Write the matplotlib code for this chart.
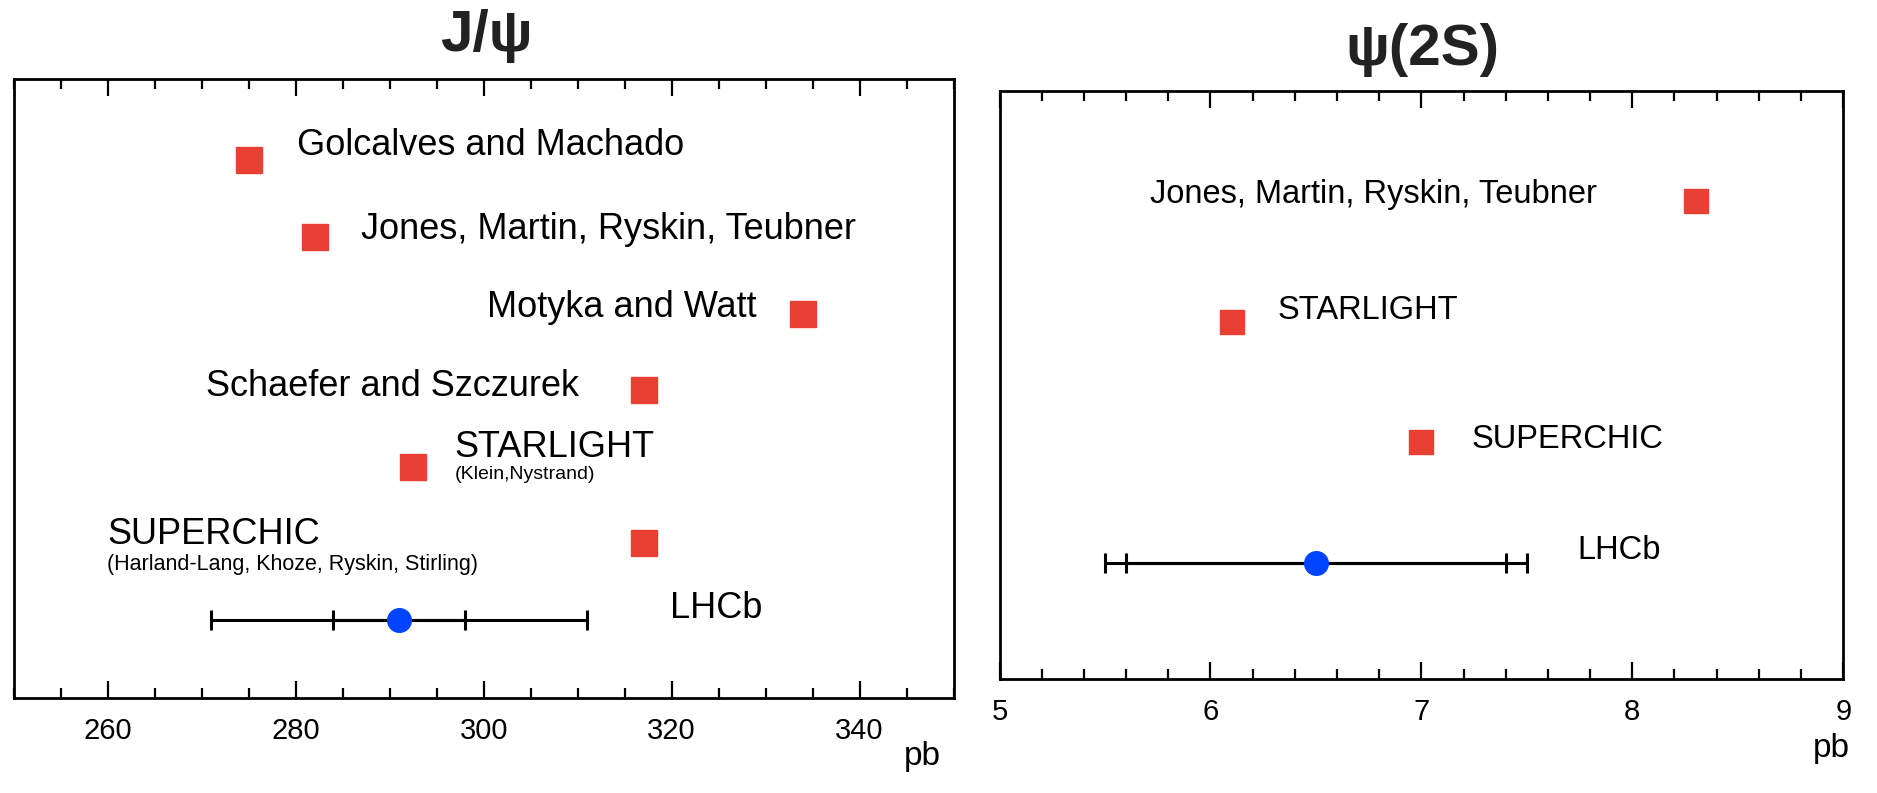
import numpy as np
import matplotlib
matplotlib.use("Agg")
import matplotlib.pyplot as plt
from matplotlib.ticker import MultipleLocator

plt.rcParams['font.family'] = ['Liberation Sans', 'DejaVu Sans']

RED = '#e84032'
BLUE = '#0044ff'

# J/psi predictions (pb), top to bottom
jpsi_models = ['Golcalves and Machado', 'Jones, Martin, Ryskin, Teubner', 'Motyka and Watt',
               'Schaefer and Szczurek', 'STARLIGHT', 'SUPERCHIC']
jpsi_notes = ['', '', '', '', '(Klein,Nystrand)', '(Harland-Lang, Khoze, Ryskin, Stirling)']
jpsi_pred = [275, 282, 334, 317, 292.5, 317]
# LHCb measurement: value, inner (stat) and total error
jpsi_lhcb = 291
jpsi_err_stat = 7
jpsi_err_tot = 20

# psi(2S) predictions (pb)
psi2s_models = ['Jones, Martin, Ryskin, Teubner', 'STARLIGHT', 'SUPERCHIC']
psi2s_pred = [8.3, 6.1, 7.0]
psi2s_lhcb = 6.5
psi2s_err_stat = 0.9
psi2s_err_tot = 1.0

# label placement: x (data units), vertical shift (rows), alignment
jpsi_lab = [(280.1, -0.2, 'left'), (286.9, -0.1, 'left'), (329.0, -0.08, 'right'),
            (310.1, -0.05, 'right'), (296.9, -0.25, 'left'), (259.9, -0.12, 'left')]
jpsi_note_lab = [None, None, None, None, (296.9, 0.1, 14), (259.9, 0.28, 15.5)]
psi2s_lab = [(5.715, -0.05, 'left'), (6.32, -0.09, 'left'), (7.24, -0.02, 'left')]


def style_axis(ax, major, minor, fs):
    for s in ax.spines.values():
        s.set_linewidth(2.0)
    ax.xaxis.set_major_locator(MultipleLocator(major))
    ax.xaxis.set_minor_locator(MultipleLocator(minor))
    ax.tick_params(axis='x', which='both', direction='in', top=True, bottom=True,
                   width=1.6, labelsize=fs, pad=14)
    ax.tick_params(axis='x', which='major', length=12)
    ax.tick_params(axis='x', which='minor', length=7)
    ax.set_yticks([])


def lhcb_point(ax, y, val, stat, tot):
    # total and statistical errors drawn as two nested bars
    for err in (tot, stat):
        ax.errorbar([val], [y], xerr=[[err], [err]], fmt='none', ecolor='black',
                    elinewidth=2.2, capsize=7, capthick=2.2, zorder=2)
    ax.plot([val], [y], 'o', color=BLUE, markersize=17, zorder=3)


fig = plt.figure(figsize=(18.77, 7.93), dpi=100)

# ---- J/psi ----
ax1 = fig.add_axes([0.0075, 0.120, 0.5005, 0.780])
rows = np.arange(len(jpsi_models))
ax1.plot(jpsi_pred, rows, 's', color=RED, markersize=19, zorder=3)
for i, name in enumerate(jpsi_models):
    x, dy, ha = jpsi_lab[i]
    ax1.text(x, rows[i] + dy, name, fontsize=26, ha=ha, va='center')
    if jpsi_notes[i]:
        nx, ndy, nfs = jpsi_note_lab[i]
        ax1.text(nx, rows[i] + ndy, jpsi_notes[i], fontsize=nfs, ha='left', va='center')
ylhcb = len(jpsi_models)
lhcb_point(ax1, ylhcb, jpsi_lhcb, jpsi_err_stat, jpsi_err_tot)
ax1.text(319.8, ylhcb - 0.15, 'LHCb', fontsize=26, ha='left', va='center')
ax1.set_xlim(250, 350)
ax1.set_ylim(7.02, -1.06)
style_axis(ax1, 20, 5, 21)
fig.text(486 / 1877, 1 - 36 / 793, 'J/ψ', fontsize=42, fontweight='bold',
         ha='center', va='center', color='#222222')
fig.text(922 / 1877, 1 - 757 / 793, 'pb', fontsize=24, ha='center', va='center')

# ---- psi(2S) ----
ax2 = fig.add_axes([0.5325, 0.144, 0.4495, 0.741])
rows2 = np.arange(len(psi2s_models))
ax2.plot(psi2s_pred, rows2, 's', color=RED, markersize=17, zorder=3)
for i, name in enumerate(psi2s_models):
    x, dy, ha = psi2s_lab[i]
    ax2.text(x, rows2[i] + dy, name, fontsize=23.5, ha=ha, va='center')
y2 = len(psi2s_models)
lhcb_point(ax2, y2, psi2s_lhcb, psi2s_err_stat, psi2s_err_tot)
ax2.text(7.74, y2 - 0.1, 'LHCb', fontsize=23.5, ha='left', va='center')
ax2.set_xlim(5, 9)
ax2.set_ylim(3.96, -0.91)
style_axis(ax2, 1, 0.2, 21)
fig.text(1422 / 1877, 1 - 50 / 793, 'ψ(2S)', fontsize=42, fontweight='bold',
         ha='center', va='center', color='#222222')
fig.text(1831 / 1877, 1 - 748 / 793, 'pb', fontsize=24, ha='center', va='center')

fig.savefig('out.png', dpi=100)
